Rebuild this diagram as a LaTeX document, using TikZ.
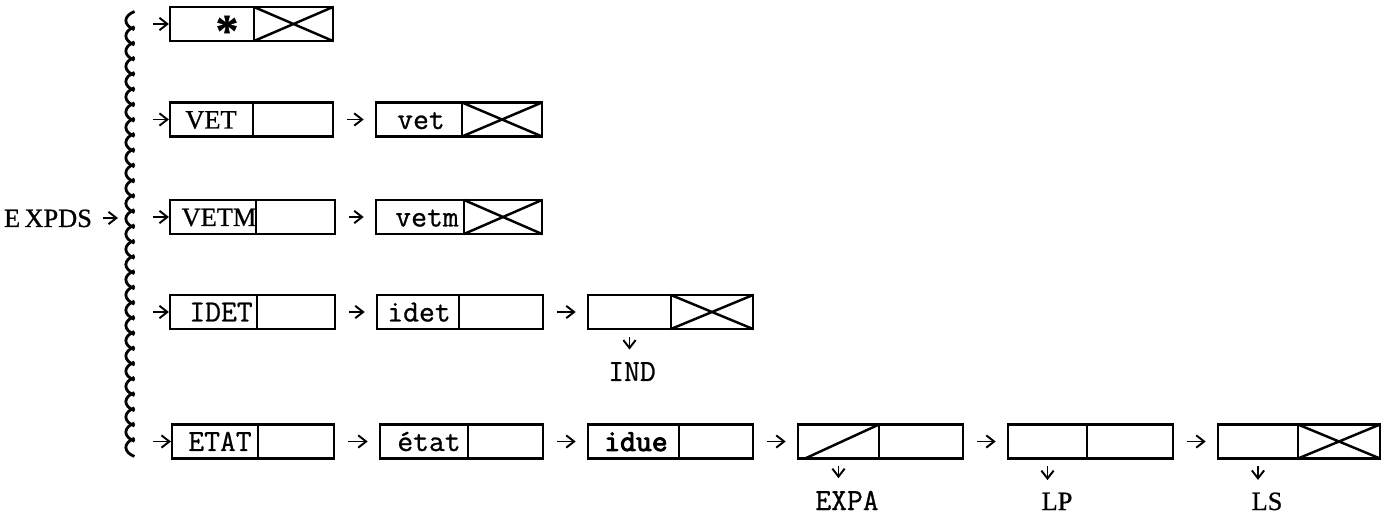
\documentclass[tikz,border=0pt]{standalone}
\usepackage{fontspec}
\setmainfont{Liberation Serif}[FakeBold=0.8]
\setmonofont{Latin Modern Mono}[FakeBold=0.8]
\newfontfamily\heavytt{Latin Modern Mono}[FakeBold=3]
\usetikzlibrary{arrows.meta}
\newlength\px
\setlength\px{0.02cm}

% a list cell made of two fields: name, left, divider, right, y centre
\newcommand\cellpair[5]{%
  \node[field, minimum width={(#3-#2)*\px}] (#1l) at (#2,#5) {};
  \node[field, minimum width={(#4-#3)*\px}] (#1r) at (#3,#5) {};}

\tikzset{
  field/.style={draw, line width=1.6pt, inner sep=0pt, outer sep=0pt,
    minimum height={34*\px}, anchor=west},
  nilmark/.style={line width=1.4pt},
  arr/.style={line width=1.1pt, -{Straight Barb[length=4.5pt,width=7pt]}},
  link/.style={arr, shorten <=8pt, shorten >=7pt},
  entry/.style={arr, shorten <=10.8pt, shorten >=0.6pt},
  down/.style={arr, shorten <=4.5pt, shorten >=7pt},
  rom/.style={font=\fontsize{15}{17}\selectfont, anchor=base, inner sep=0pt},
  tt/.style={font=\ttfamily\fontsize{17.5}{20}\selectfont, anchor=base, inner sep=0pt},
  brace/.style={line width=1.6pt},
}

\begin{document}
\begin{tikzpicture}[x=0.02cm, y=-0.02cm]
\useasboundingbox (0,0) rectangle (1392,516);

% wavy brace
\foreach \i in {0,...,28}{
  \pgfmathsetmacro\ya{13+\i*15.241}
  \pgfmathsetmacro\yb{\ya+15.241}
  \draw[brace] (134.5,\ya-1.5) .. controls (123,\ya+3) and (123,\yb-3) .. (134.5,\yb+1.5);
}
\coordinate (bmid) at (125,218);
\coordinate (b1) at (134,24);
\coordinate (b2) at (134,119.5);
\coordinate (b3) at (134,217);
\coordinate (b4) at (134,312);
\coordinate (b5) at (134,441.5);

\node[rom] (expds) at (48,227) {E\,XPDS};
\draw[arr, shorten <=6pt, shorten >=4pt] (expds.east |- bmid) -- (bmid);

% row 1
\cellpair{ra}{170}{254}{333}{24}
\node[font=\bfseries\fontsize{26}{28}\selectfont, anchor=base, inner sep=0pt] (star) at (227,46) {*};
\draw[nilmark] (rar.north west) -- (rar.south east) (rar.south west) -- (rar.north east);
\draw[entry] (b1) -- (ral);

% row 2
\cellpair{rba}{170}{253}{333}{119.5}
\cellpair{rbb}{376}{462}{542}{119.5}
\node[rom] (vetu) at (211,128.5) {VET};
\node[tt] (vetl) at (421,129) {vet};
\draw[nilmark] (rbbr.north west) -- (rbbr.south east) (rbbr.south west) -- (rbbr.north east);
\draw[entry] (b2) -- (rbal);
\draw[link] (rbar.east) -- (rbbl.west);

% row 3
\cellpair{rca}{170}{256}{335}{217}
\cellpair{rcb}{376}{464}{542}{217}
\node[rom] (vetmu) at (219,226) {VETM};
\node[tt] (vetml) at (427,226.5) {vetm};
\draw[nilmark] (rcbr.north west) -- (rcbr.south east) (rcbr.south west) -- (rcbr.north east);
\draw[entry] (b3) -- (rcal);
\draw[link] (rcar.east) -- (rcbl.west);

% row 4
\cellpair{rda}{170}{257}{335}{312}
\cellpair{rdb}{377}{459}{543}{312}
\cellpair{rdc}{588}{671}{753}{312}
\node[tt] (idetu) at (221,321.5) {IDET};
\node[tt] (idetl) at (419,321.5) {idet};
\draw[nilmark] (rdcr.north west) -- (rdcr.south east) (rdcr.south west) -- (rdcr.north east);
\node[tt] (ind) at (632,381) {IND};
\draw[entry] (b4) -- (rdal);
\draw[link] (rdar.east) -- (rdbl.west);
\draw[link] (rdbr.east) -- (rdcl.west);
\draw[down] (rdcl.south) -- (rdcl.south |- ind.north);

% row 5
\cellpair{rea}{172}{258}{334}{441.5}
\cellpair{reb}{380}{468}{543}{441.5}
\cellpair{rec}{588}{679}{753}{441.5}
\cellpair{red}{798}{879}{963}{441.5}
\cellpair{ree}{1008}{1087}{1173}{441.5}
\cellpair{ref}{1218}{1298}{1380}{441.5}
\node[tt] (etatu) at (220,451) {ETAT};
\node[tt] (etatl) at (429,451) {état};
\node[tt, font=\heavytt\fontsize{17.5}{20}\selectfont] (idue) at (636,451) {idue};
\draw[nilmark] ([xshift=4pt]redl.south west) -- (redl.north east);
\draw[nilmark] (refr.north west) -- (refr.south east) (refr.south west) -- (refr.north east);
\node[tt] (expa) at (847,510) {EXPA};
\node[rom] (lp) at (1057,510) {LP};
\node[rom] (ls) at (1267,510) {LS};
\draw[entry] (b5) -- (real);
\draw[link] (rear.east) -- (rebl.west);
\draw[link] (rebr.east) -- (recl.west);
\draw[link] (recr.east) -- (redl.west);
\draw[link] (redr.east) -- (reel.west);
\draw[link] (reer.east) -- (refl.west);
\draw[down] (redl.south) -- (redl.south |- expa.north);
\draw[down] (reel.south) -- (reel.south |- lp.north);
\draw[down] (refl.south) -- (refl.south |- ls.north);
\end{tikzpicture}
\end{document}
